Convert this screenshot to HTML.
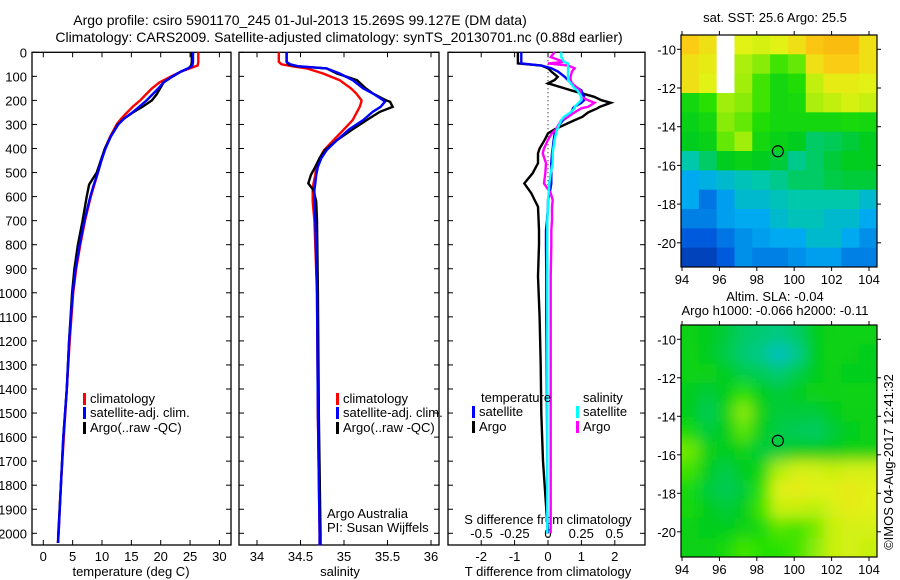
<!DOCTYPE html>
<html><head><meta charset="utf-8">
<style>
html,body{margin:0;padding:0;background:#fff;}
svg{display:block;font-family:"Liberation Sans",sans-serif;}
text{font-size:13px;fill:#000;}
text.ttl{font-size:14px;}
</style></head>
<body>
<svg id="chart" width="900" height="580" viewBox="0 0 900 580" xmlns="http://www.w3.org/2000/svg">
<rect width="900" height="580" fill="#fff"/>
<text class="ttl" x="300" y="25" text-anchor="middle">Argo profile: csiro 5901170_245 01-Jul-2013 15.269S 99.127E (DM data)</text>
<text class="ttl" x="339" y="42" text-anchor="middle">Climatology: CARS2009. Satellite-adjusted climatology: synTS_20130701.nc (0.88d earlier)</text>
<g id="layer"></g>
<text x="775" y="22" text-anchor="middle">sat. SST: 25.6 Argo: 25.5</text>
<text x="775" y="301" text-anchor="middle">Altim. SLA: -0.04</text>
<text x="775" y="315" text-anchor="middle">Argo h1000: -0.066 h2000: -0.11</text>
<text transform="translate(893,462) rotate(-90)" text-anchor="middle">©IMOS 04-Aug-2017 12:41:32</text>
</svg>
<script>
// ---- data ----
const depthTicks = [0,100,200,300,400,500,600,700,800,900,1000,1100,1200,1300,1400,1500,1600,1700,1800,1900,2000];
const tempTicks = [0,5,10,15,20,25,30];
const salTicks = [34,34.5,35,35.5,36];
const salTickLabels = ["34","34.5","35","35.5","36"];
const dTTicks = [-2,-1,0,1,2];
const dSTicks = [-0.5,-0.25,0,0.25,0.5];
const dSTickLabels = ["-0.5","-0.25","0","0.25","0.5"];

const depthT = [0,20,40,55,65,80,100,125,150,175,200,225,250,275,300,350,400,450,500,550,600,700,800,900,1000,1200,1400,1600,1800,2000,2040];
const argoT = [25.3,25.3,25.3,25.2,24.8,23.5,22.1,20.5,19.9,19.3,18.5,17.0,15.3,13.8,12.7,11.5,10.5,9.8,9.1,7.8,7.4,6.7,5.9,5.3,4.9,4.4,4.0,3.4,3.0,2.56,2.5];
const climT = [26.4,26.4,26.4,26.3,25.2,23.5,21.8,19.8,18.5,17.5,16.5,15.3,14.3,13.3,12.5,11.4,10.5,9.9,9.3,8.7,8.1,7.1,6.3,5.6,5.1,4.5,4.0,3.5,3.0,2.6,2.5];
const satT = [25.5,25.5,25.5,25.4,24.8,23.5,22.0,20.5,19.6,18.6,17.6,16.4,15.2,13.8,12.8,11.5,10.6,9.9,9.3,8.6,8.0,7.0,6.2,5.5,5.0,4.4,4.0,3.4,3.0,2.6,2.5];

const depthS = [0,20,40,50,58,67,88,116,150,171,199,206,227,248,282,320,365,407,440,476,510,545,573,620,700,1000,1500,2000,2050];
const argoS = [34.34,34.34,34.34,34.36,34.45,34.8,34.92,35.15,35.25,35.33,35.48,35.53,35.56,35.41,35.26,35.1,34.92,34.78,34.72,34.67,34.62,34.59,34.65,34.68,34.69,34.7,34.71,34.73,34.73];
const climS = [34.25,34.25,34.25,34.28,34.4,34.57,34.76,34.95,35.08,35.14,35.2,35.2,35.18,35.15,35.1,35.0,34.88,34.77,34.72,34.68,34.67,34.65,34.64,34.64,34.66,34.69,34.7,34.72,34.72];
const satS = [34.34,34.34,34.34,34.38,34.47,34.8,34.95,35.1,35.22,35.33,35.45,35.47,35.42,35.33,35.22,35.06,34.92,34.8,34.74,34.7,34.68,34.67,34.66,34.66,34.67,34.69,34.7,34.72,34.72];

const depthD = [0,20,40,46,55,66,80,102,115,129,150,158,185,199,210,227,233,250,268,282,320,337,364,400,420,461,503,545,586,614,642,700,740,800,932,1100,1300,1500,1700,1900,2000];
const argoDT = [-0.9,-0.9,-0.9,-0.9,-0.2,0,0.1,0.29,0.2,0,0.5,0.69,1.38,1.6,1.88,1.55,1.48,1.2,1.03,0.8,0.2,0,-0.1,-0.25,-0.3,-0.3,-0.46,-0.71,-0.5,-0.4,-0.3,-0.28,-0.27,-0.27,-0.3,-0.25,-0.22,-0.2,-0.15,-0.05,0];
const satDT = [-0.8,-0.8,-0.8,-0.8,-0.2,0.1,0.3,0.5,0.59,0.7,0.9,1.0,1.08,1.08,1.0,0.78,0.75,0.7,0.6,0.45,0.24,0.2,0.17,0.14,0.12,0.1,0.1,0.1,0.05,0.0,0,-0.03,-0.06,-0.06,-0.05,-0.05,-0.04,-0.03,-0.02,-0.02,-0.01];
const argoDS = [0.05,0.02,0.12,0.0,0.15,0.2,0.18,0.17,0.17,0.18,0.22,0.24,0.25,0.3,0.35,0.3,0.25,0.2,0.15,0.1,0.06,0.03,0,-0.03,-0.04,-0.015,-0.02,-0.03,0.02,0.035,0.03,0.03,0.025,0.025,0.02,0.02,0.02,0.02,0.02,0.02,0.02];
const satDS = [0.1,0.1,0.12,0.15,0.15,0.15,0.15,0.15,0.15,0.17,0.2,0.22,0.25,0.25,0.23,0.2,0.2,0.17,0.12,0.1,0.07,0.06,0.05,0.04,0.035,0.035,0.02,0.01,0.005,0,0,-0.005,-0.005,-0.005,-0.005,-0.005,-0.005,-0.005,-0.005,-0.005,-0.005];

const lonTicks = [94,96,98,100,102,104];
const latTicks = [-10,-12,-14,-16,-18,-20];
const sstGrid = [
[0.9,0.85,null,0.8,0.78,0.8,0.85,0.92,0.95,0.95,0.85],
[0.85,0.82,null,0.72,0.68,0.62,0.65,0.85,0.9,0.9,0.85],
[0.85,0.8,null,0.7,0.62,0.55,0.58,0.75,0.82,0.82,0.8],
[0.55,0.6,0.7,0.68,0.62,0.55,0.56,0.72,0.75,0.78,0.76],
[0.52,0.55,0.68,0.65,0.58,0.55,0.55,0.55,0.55,0.56,0.55],
[0.5,0.52,0.65,0.7,0.55,0.52,0.5,0.45,0.46,0.48,0.5],
[0.4,0.45,0.5,0.52,0.5,0.48,0.42,0.45,0.48,0.5,0.5],
[0.3,0.32,0.35,0.38,0.4,0.42,0.45,0.45,0.47,0.48,0.48],
[0.3,0.2,0.28,0.35,0.35,0.38,0.4,0.4,0.4,0.4,0.35],
[0.22,0.22,0.28,0.3,0.3,0.35,0.38,0.38,0.35,0.35,0.3],
[0.15,0.15,0.2,0.25,0.28,0.3,0.3,0.35,0.35,0.3,0.25],
[0.08,0.08,0.15,0.25,0.22,0.22,0.25,0.28,0.28,0.22,0.22]];
const slaGrid = [
[0.52,0.5,0.48,0.45,0.44,0.43,0.45,0.5,0.52,0.53,0.53],
[0.53,0.5,0.47,0.44,0.42,0.37,0.42,0.5,0.53,0.52,0.5],
[0.53,0.52,0.5,0.47,0.46,0.44,0.47,0.5,0.52,0.5,0.5],
[0.5,0.48,0.5,0.6,0.5,0.48,0.5,0.52,0.52,0.53,0.53],
[0.5,0.46,0.52,0.68,0.52,0.48,0.48,0.48,0.5,0.52,0.52],
[0.56,0.48,0.5,0.64,0.5,0.47,0.46,0.45,0.48,0.5,0.52],
[0.66,0.52,0.5,0.52,0.48,0.48,0.5,0.5,0.5,0.52,0.52],
[0.62,0.5,0.47,0.5,0.54,0.72,0.78,0.78,0.76,0.78,0.78],
[0.56,0.48,0.46,0.48,0.6,0.8,0.82,0.8,0.8,0.83,0.8],
[0.55,0.5,0.48,0.5,0.62,0.76,0.76,0.74,0.78,0.82,0.8],
[0.52,0.5,0.5,0.52,0.56,0.64,0.62,0.66,0.76,0.78,0.78],
[0.52,0.52,0.56,0.62,0.6,0.6,0.62,0.68,0.76,0.78,0.76]];
const argoLon = [99.127];
const argoLat = [-15.269];

// ---- scales ----
const NS="http://www.w3.org/2000/svg";
const layer=document.getElementById('layer');
const TOP=52.3, BOT=545;
const yD = d => TOP + d*0.2405;
const xT = t => 43.3 + t*5.87;
const xS = s => 257 + (s-34)*87;
const xDT = v => 548 + v*33.4;
const xDS = v => 548 + v*133;
const mapX = lon => 682 + (lon-94)*18.7;
const mapY1 = lat => 49.3 + (-10-lat)*19.35;
const mapY2 = lat => 339.3 + (-10-lat)*19.25;

function el(tag, attrs, parent){
  const e=document.createElementNS(NS,tag);
  for(const k in attrs) e.setAttribute(k,attrs[k]);
  (parent||layer).appendChild(e);
  return e;
}
function txt(x,y,s,anchor,parent){
  const t=el('text',{x:x,y:y,'text-anchor':anchor||'start'},parent);
  t.textContent=s; return t;
}

function panel(name,x0,x1){
  const g=el('g',{});
  
  
  const f=el('rect',{x:x0,y:TOP,width:x1-x0,height:BOT-TOP,fill:'none',stroke:'#000','stroke-width':1.3},g);
  
  
  depthTicks.forEach(d=>{
    el('line',{x1:x0,x2:x0+5,y1:yD(d),y2:yD(d),stroke:'#000'},g);
    el('line',{x1:x1-5,x2:x1,y1:yD(d),y2:yD(d),stroke:'#000'},g);
  });
  return g;
}
function line(g,xs,ds,xf,color,name,w){
  const p=el('polyline',{points:xs.map((v,i)=>xf(v).toFixed(1)+','+yD(ds[i]).toFixed(1)).join(' '),fill:'none',stroke:color,'stroke-width':w||2.4,'stroke-linejoin':'miter'},g);
  
  
}
function legendItem(g,x,y,color,label,name){
  const m=el('rect',{x:x,y:y-10,width:3,height:12,fill:color},g);
  
  
  const t=txt(x+7,y,label,'start',g);
  
  
}

// Panel 1: temperature
const g1=panel('temperature-panel',32,231);
depthTicks.forEach(d=>{ const t=txt(27,yD(d)+5,String(d),'end',g1);
    });
tempTicks.forEach(v=>{
  el('line',{x1:xT(v),x2:xT(v),y1:TOP,y2:TOP+5,stroke:'#000'},g1);
  el('line',{x1:xT(v),x2:xT(v),y1:BOT-5,y2:BOT,stroke:'#000'},g1);
  const t=txt(xT(v),561,String(v),'middle',g1);
   
});
const ax1=txt(131,576,'temperature (deg C)','middle',g1);
 
line(g1,climT,depthT,xT,'#f00','clim-temperature-line');
line(g1,argoT,depthT,xT,'#000','argo-temperature-line');
line(g1,satT,depthT,xT,'#00f','sat-temperature-line');
legendItem(g1,83,403,'#f00','climatology','legend-climatology');
legendItem(g1,83,417,'#00f','satellite-adj. clim.','legend-satellite');
legendItem(g1,83,432,'#000','Argo(..raw -QC)','legend-argo');

// Panel 2: salinity
const g2=panel('salinity-panel',239,439);
salTicks.forEach((v,i)=>{
  el('line',{x1:xS(v),x2:xS(v),y1:TOP,y2:TOP+5,stroke:'#000'},g2);
  el('line',{x1:xS(v),x2:xS(v),y1:BOT-5,y2:BOT,stroke:'#000'},g2);
  const t=txt(xS(v),561,salTickLabels[i],'middle',g2);
   
});
const ax2=txt(340,576,'salinity','middle',g2);
 
line(g2,climS,depthS,xS,'#f00','clim-salinity-line');
line(g2,argoS,depthS,xS,'#000','argo-salinity-line');
line(g2,satS,depthS,xS,'#00f','sat-salinity-line');
legendItem(g2,336,403,'#f00','climatology','legend-climatology');
legendItem(g2,336,417,'#00f','satellite-adj. clim.','legend-satellite');
legendItem(g2,336,432,'#000','Argo(..raw -QC)','legend-argo');
const aa=txt(327,518,'Argo Australia','start',g2);
 
const pi=txt(327,532,'PI: Susan Wijffels','start',g2);
 

// Panel 3: differences
const g3=panel('difference-panel',448,645);
el('line',{x1:xDT(0),x2:xDT(0),y1:TOP,y2:BOT,stroke:'#000','stroke-dasharray':'1,3'},g3);
dTTicks.forEach(v=>{
  el('line',{x1:xDT(v),x2:xDT(v),y1:TOP,y2:TOP+5,stroke:'#000'},g3);
  el('line',{x1:xDT(v),x2:xDT(v),y1:BOT-5,y2:BOT,stroke:'#000'},g3);
  const t=txt(xDT(v),561,String(v),'middle',g3);
   
});
dSTicks.forEach((v,i)=>{
  const t=txt(xDS(v),538,dSTickLabels[i],'middle',g3);
   
});
const sx=txt(548,524,'S difference from climatology','middle',g3);
 
const tx=txt(548,576,'T difference from climatology','middle',g3);
 
line(g3,argoDT,depthD,xDT,'#000','argo-temp-diff-line');
line(g3,satDT,depthD,xDT,'#00f','sat-temp-diff-line');
line(g3,argoDS,depthD,xDS,'#f0f','argo-sal-diff-line');
line(g3,satDS,depthD,xDS,'#0ff','sat-sal-diff-line');
const lt=txt(481,402,'temperature','start',g3);
 
const ls=txt(583,402,'salinity','start',g3);
 
legendItem(g3,472,416,'#00f','satellite','legend-temp-satellite');
legendItem(g3,472,431,'#000','Argo','legend-temp-argo');
legendItem(g3,576,416,'#0ff','satellite','legend-sal-satellite');
legendItem(g3,576,431,'#f0f','Argo','legend-sal-argo');

// Maps
const stops=[[0,[0,40,150]],[0.15,[0,90,220]],[0.3,[0,170,240]],[0.4,[0,200,170]],[0.5,[0,205,30]],[0.6,[40,225,0]],[0.7,[160,238,10]],[0.8,[225,242,20]],[0.9,[250,205,20]],[1,[250,170,10]]];
function cmap(v){
  for(let i=1;i<stops.length;i++){ if(v<=stops[i][0]){
    const a=stops[i-1],b=stops[i],f=(v-a[0])/(b[0]-a[0]);
    const c=a[1].map((x,k)=>Math.round(x+(b[1][k]-x)*f));
    return 'rgb('+c.join(',')+')'; } }
  return 'rgb(250,170,10)';
}
function drawMap(name,grid,x0,x1,y0,y1,yf,blur){
  const g=el('g',{});
  
  
  const cg=el('g',blur?{filter:'url(#blur)'}:{},g);
  const cp=el('clipPath',{id:name+'-clip'},g);
  el('rect',{x:x0,y:y0,width:x1-x0,height:y1-y0},cp);
  const outer=el('g',{'clip-path':'url(#'+name+'-clip)'},g);
  outer.appendChild(cg);
  const rows=grid.length, cols=grid[0].length, cw=(x1-x0)/cols, rh=(y1-y0)/rows;
  grid.forEach((row,r)=>row.forEach((v,c)=>{
    const ex=blur?(c===0?-20:0):0, ey=blur?(r===0?-20:0):0;
    const ew=blur?(c===cols-1?20:0)-ex:0, eh=blur?(r===rows-1?20:0)-ey:0;
    const cell=el('rect',{x:x0+c*cw+ex,y:y0+r*rh+ey,width:cw+0.5+ew,height:rh+0.5+eh,fill:v===null?'#fff':cmap(v)},cg);
    
    
  }));
  const fr=el('rect',{x:x0,y:y0,width:x1-x0,height:y1-y0,fill:'none',stroke:'#000','stroke-width':1.2},g);
  
  
  lonTicks.forEach(l=>{
    el('line',{x1:mapX(l),x2:mapX(l),y1:y1,y2:y1+4,stroke:'#000'},g);
    el('line',{x1:mapX(l),x2:mapX(l),y1:y0,y2:y0-4,stroke:'#000'},g);
    const t=txt(mapX(l),y1+17,String(l),'middle',g);
     
  });
  latTicks.forEach(l=>{
    el('line',{x1:x0-4,x2:x0,y1:yf(l),y2:yf(l),stroke:'#000'},g);
    el('line',{x1:x1,x2:x1+4,y1:yf(l),y2:yf(l),stroke:'#000'},g);
    const t=txt(x0-5,yf(l)+5,String(l),'end',g);
     
  });
  const m=el('circle',{cx:mapX(argoLon[0]),cy:yf(argoLat[0]),r:5.5,fill:'none',stroke:'#000','stroke-width':1.2},g);
  
  
}
const defs=el('defs',{});
const flt=el('filter',{id:'blur',x:'-10%',y:'-10%',width:'120%',height:'120%'},defs);
el('feGaussianBlur',{stdDeviation:7},flt);
drawMap('sst-map',sstGrid,681,877,35,267,mapY1,false);
drawMap('sla-map',slaGrid,681,877,325,557,mapY2,true);
</script>
</body></html>
